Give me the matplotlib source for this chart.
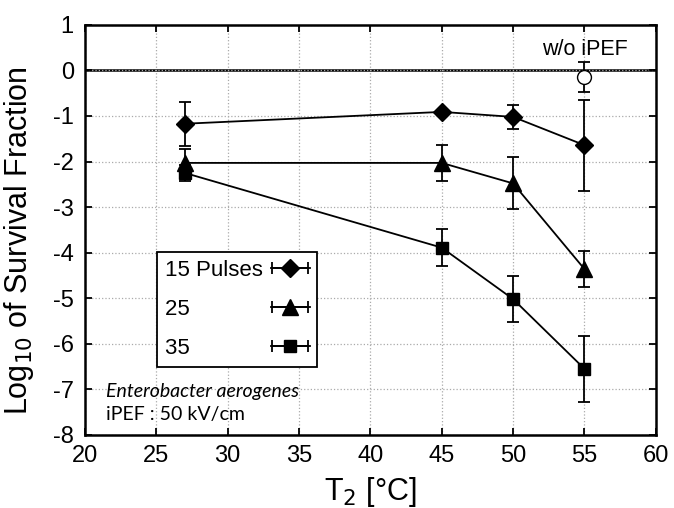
import numpy as np
import matplotlib.pyplot as plt
from matplotlib.container import ErrorbarContainer
from matplotlib.legend_handler import HandlerErrorbar

# survival data
temps = [27, 45, 50, 55]
p15 = [-1.17, -0.91, -1.02, -1.64]
p15_err = [0.48, 0.0, 0.27, 1.0]
p25 = [-2.03, -2.03, -2.48, -4.36]
p25_err = [0.3, 0.39, 0.57, 0.4]
p35 = [-2.25, -3.89, -5.02, -6.55]
p35_err = [0.18, 0.41, 0.5, 0.73]
ctrl_t = [55]
ctrl = [-0.15]
ctrl_err = [0.33]
labels = ['15 Pulses', '25', '35']

plt.rcParams['font.family'] = ['Liberation Sans', 'DejaVu Sans']
plt.rcParams['axes.unicode_minus'] = False

fig = plt.figure(figsize=(6.74, 5.08), dpi=100)
ax = fig.add_axes([0.126, 0.144, 0.847, 0.807])

kw = dict(color='black', capsize=4, elinewidth=1.3, capthick=1.3)
markers = [('D', 9), ('^', 11), ('s', 9)]
for vals, errs, (m, s) in zip([p15, p25, p35], [p15_err, p25_err, p35_err], markers):
    ax.errorbar(temps, vals, yerr=errs, marker=m, ms=s, lw=1.3, **kw)
ax.errorbar(ctrl_t, ctrl, yerr=ctrl_err, marker='o', ms=10, mfc='white',
            mec='black', ls='none', **kw)

ax.axhline(0, color='black', lw=1.8, zorder=1)

ax.set_xlim(20, 60)
ax.set_ylim(-8, 1)
ax.set_xticks(range(20, 61, 5))
ax.set_yticks(range(-8, 2))
ax.grid(True, ls=':', color='#aaaaaa', lw=0.9)
ax.tick_params(direction='in', top=True, right=True, length=5, width=1.3,
               labelsize=17)
ax.tick_params(axis='x', pad=7)
ax.tick_params(axis='y', pad=8)
for sp in ax.spines.values():
    sp.set_linewidth(1.8)

ax.set_xlabel('T$_2$ [°C]', fontsize=22, labelpad=6)
ax.set_ylabel('Log$_{10}$ of Survival Fraction', fontsize=22)
ax.yaxis.set_label_coords(-0.085, 0.474)

ax.text(55, 0.45, 'w/o iPEF', fontsize=15.5, ha='center', va='center')
ax.text(21.5, -7.05, 'Enterobacter aerogenes', fontsize=14, style='italic',
        family='Lato', va='center')
ax.text(21.5, -7.55, 'iPEF : 50 kV/cm', fontsize=14, family='Lato',
        va='center')

# legend handles with horizontal error bars, as drawn in the original
handles = []
for m, s in markers:
    h = ax.errorbar([np.nan], [np.nan], xerr=[1], marker=m, ms=s, lw=1.3, **kw)
    handles.append(h)
pad_labels = [labels[0]] + [l + ' ' * 12 for l in labels[1:]]
leg = ax.legend(handles, pad_labels, loc='upper left',
                bbox_to_anchor=(0.126, 0.445), borderaxespad=0,
                markerfirst=False, fontsize=16, frameon=True, fancybox=False,
                edgecolor='black', handlelength=1.75, handletextpad=0.35,
                labelspacing=0.8, borderpad=0.35,
                handler_map={ErrorbarContainer: HandlerErrorbar(xerr_size=0.8)})
leg.get_frame().set_linewidth(1.3)
leg.get_frame().set_alpha(1)

fig.savefig('out.png', dpi=100)
